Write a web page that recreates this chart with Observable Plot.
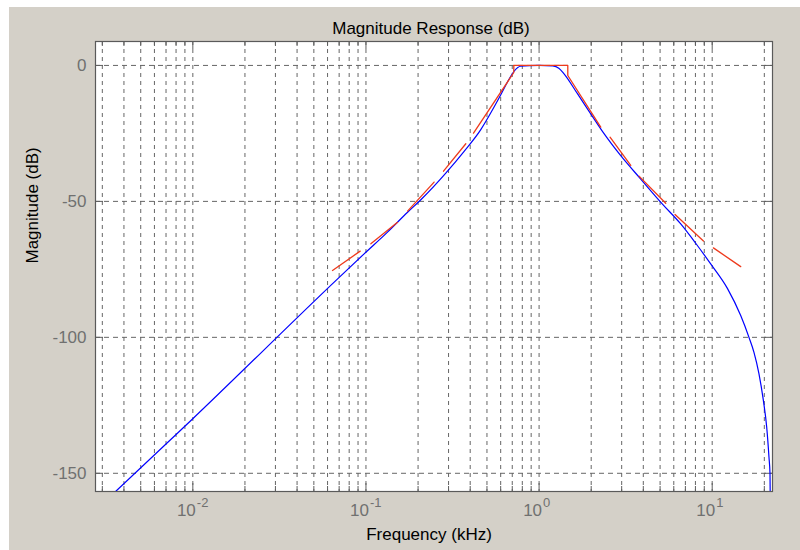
<!DOCTYPE html>
<html><head><meta charset="utf-8">
<script src="https://cdn.jsdelivr.net/npm/d3@7"></script>
<script src="https://cdn.jsdelivr.net/npm/@observablehq/plot@0.6"></script>
<style>
html,body{margin:0;padding:0;background:#fff;}
#wrap{position:absolute;left:9px;top:7px;width:791px;height:543px;background:#d4d0c8;}
</style></head><body><div id="wrap"></div>
<script>
// Filter magnitude response (blue)
const blueFreq = [0.00358, 0.00975, 0.0686, 0.0976, 0.1332, 0.1739, 0.2075, 0.2892, 0.369, 0.4606, 0.5496, 0.6009, 0.657, 0.72, 0.78, 1.0, 1.2, 1.30, 1.394, 1.666, 1.988, 2.373, 2.963, 3.866, 5.16, 6.58, 8.03, 9.80, 12.24, 14.61, 16.31, 17.43, 18.63, 19.75, 20.64, 21.28, 21.57, 21.65];
const blueDb   = [-156.7, -130.6, -78.5, -69.3, -61.3, -54.0, -49.4, -39.6, -31.6, -23.6, -15.3, -10.8, -6.1, -2.0, -0.3, 0, -0.2, -1.0, -3.1, -10.4, -17.8, -25.1, -33.2, -41.8, -51.0, -58.3, -65.4, -73.0, -82.0, -92.0, -100.0, -105.5, -113.4, -123.2, -133.0, -144.1, -150.2, -160];

// Mask (red), one id per drawn piece
const redSeg  = [1, 1, 2, 2, 3, 3, 4, 4, 5, 5, 5, 5, 5, 5, 6, 6, 7, 7, 8, 8, 9, 9];
const redFreq = [0.0641, 0.0926, 0.1067, 0.1522, 0.1739, 0.2475, 0.2805, 0.3774, 0.418, 0.7145, 0.7145, 1.465, 1.465, 2.271, 2.570, 3.384, 3.779, 5.39, 6.10, 8.90, 10.16, 14.61];
const redDb   = [-75.4, -68.3, -65.6, -57.7, -53.6, -42.9, -38.9, -28.8, -24.9, -2.6, 0, 0, -3.7, -22.7, -26.4, -36.8, -40.7, -50.7, -54.8, -64.6, -67.1, -74.0];

const xDomain = [0.00274, 22.3];
const yDomain = [-156.7, 8.8];
const xMajor = [0.01, 0.1, 1, 10];
const xMinor = [0.003, 0.004, 0.005, 0.006, 0.007, 0.008, 0.009,
                0.02, 0.03, 0.04, 0.05, 0.06, 0.07, 0.08, 0.09,
                0.2, 0.3, 0.4, 0.5, 0.6, 0.7, 0.8, 0.9,
                2, 3, 4, 5, 6, 7, 8, 9, 20];
const yTicks = [0, -50, -100, -150];
const titleText = "Magnitude Response (dB)";
const xLabel = "Frequency (kHz)";
const yLabel = "Magnitude (dB)";

const W = 791, H = 543, mL = 86, mR = 28, mT = 34, mB = 59;
const plotW = W - mL - mR;
const plotH = H - mT - mB;

const blue = blueFreq.map((f, i) => ({f, db: blueDb[i]}));
const red = redFreq.map((f, i) => ({f, db: redDb[i], s: redSeg[i]}));
const xGrid = [...xMinor, ...xMajor];
const font = "Arial, 'Liberation Sans', sans-serif";
const gridColor = "#666666";
const tickColor = "#5e5e5e";

const chart = Plot.plot({
  width: W, height: H,
  marginLeft: mL, marginRight: mR, marginTop: mT, marginBottom: mB,
  style: {background: "#d4d0c8", fontFamily: font, fontSize: "17px", overflow: "visible"},
  x: {type: "log", domain: xDomain, axis: null},
  y: {domain: yDomain, axis: null},
  marks: [
    Plot.frame({fill: "white"}),
    Plot.ruleX(xGrid, {x: d => d, stroke: gridColor, strokeDasharray: "4,4", strokeWidth: 1}),
    Plot.ruleY(yTicks, {y: d => d, stroke: gridColor, strokeDasharray: "5,4", strokeWidth: 1}),
    // inward ticks
    Plot.ruleX(xMajor, {x: d => d, insetTop: plotH - 8, stroke: tickColor}),
    Plot.ruleX(xMajor, {x: d => d, insetBottom: plotH - 8, stroke: tickColor}),
    Plot.ruleX(xMinor, {x: d => d, insetTop: plotH - 5, stroke: tickColor}),
    Plot.ruleX(xMinor, {x: d => d, insetBottom: plotH - 5, stroke: tickColor}),
    Plot.ruleY(yTicks, {y: d => d, insetRight: plotW - 8, stroke: tickColor}),
    Plot.ruleY(yTicks, {y: d => d, insetLeft: plotW - 8, stroke: tickColor}),
    // curves
    Plot.line(blue, {x: "f", y: "db", stroke: "#0000ff", strokeWidth: 1.2, curve: "monotone-x", clip: true}),
    Plot.line(red, {x: "f", y: "db", z: "s", stroke: "#ee3a1c", strokeWidth: 1.3, clip: true}),
    Plot.frame({stroke: "#5a5a5a", strokeWidth: 1.2}),
    // y tick labels
    Plot.text(yTicks, {y: d => d, frameAnchor: "left", dx: -9, textAnchor: "end", text: d => String(d), fill: "#707070", fontSize: 17}),
    // x tick labels 10^n
    Plot.text(xMajor, {x: d => d, frameAnchor: "bottom", dy: 24, dx: 3, textAnchor: "end", text: () => "10", fill: "#707070", fontSize: 17}),
    Plot.text(xMajor, {x: d => d, frameAnchor: "bottom", dy: 15, dx: 4, textAnchor: "start", text: d => String(Math.round(Math.log10(d))), fill: "#707070", fontSize: 13}),
    // title and axis labels
    Plot.text([titleText], {frameAnchor: "top", dy: -20, dx: -3, fill: "black", fontSize: 17}),
    Plot.text([xLabel], {frameAnchor: "bottom", dy: 48, dx: -5, fill: "black", fontSize: 17}),
    Plot.text([yLabel], {frameAnchor: "left", dx: -63, dy: -3, rotate: -90, fill: "black", fontSize: 17})
  ]
});
document.getElementById("wrap").appendChild(chart);
</script>
</body></html>
